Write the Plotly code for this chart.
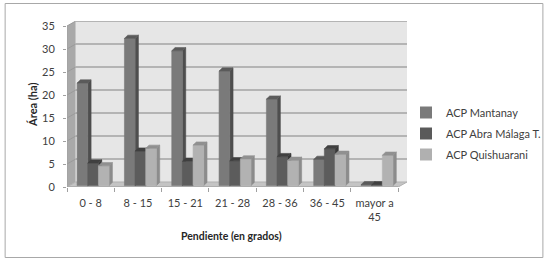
import plotly.graph_objects as go

# ---------------- data ----------------
categories = ["0 - 8", "8 - 15", "15 - 21", "21 - 28", "28 - 36", "36 - 45", "mayor a<br>45"]
series_names = ["ACP Mantanay", "ACP Abra Málaga T.", "ACP Quishuarani"]
mantanay = [22.3, 32.0, 29.3, 24.9, 18.8, 5.7, 0.2]
abra = [4.9, 7.5, 5.3, 5.4, 6.3, 8.0, 0.2]
quishuarani = [4.3, 8.1, 8.8, 5.8, 5.5, 6.8, 6.6]
y_ticks = [0, 5, 10, 15, 20, 25, 30, 35]

series_values = [mantanay, abra, quishuarani]
legend_colors = ["#7a7a7a", "#5a5a5a", "#b0b0b0"]
front_colors = ["#7a7a7a", "#5c5c5c", "#b2b2b2"]
top_colors = ["#5a5a5a", "#404040", "#909090"]
side_colors = ["#4e4e4e", "#383838", "#8c8c8c"]

# ---------------- geometry ----------------
W, H = 558, 261
L, R, T, B = 67, 142, 21, 74
PW, PH = W - L - R, H - T - B
n_cat = len(categories)
ymax = y_ticks[-1]
xs = 340 / n_cat          # px per x unit (front plane)
ys = 4.6                  # px per y unit
dx, dy = 9 / xs, 5 / ys   # full depth offset (back wall)
fx, fy = 2.5 / xs, 1.4 / ys   # bar front offset
bx, by = 3.4 / xs, 3.2 / ys   # bar depth
bw = 0.225
g0 = 0.5 - 1.5 * bw

x_range = [0, n_cat + dx]
y_range = [0, ymax + dy]


def px2paper_x(p):
    return (p - L) / PW


def px2paper_y(p):
    return (H - B - p) / PH


fig = go.Figure()

# bar faces drawn as polygons, painter's order left to right
for i, vals in enumerate(series_values):
    fxs, fys, txs, tys, sxs, sys_ = [], [], [], [], [], []
    for c, v in enumerate(vals):
        x0 = c + g0 + i * bw + fx
        x1 = x0 + bw
        y0 = fy
        y1 = v + fy
        fxs += [x0, x1, x1, x0, x0, None]
        fys += [y0, y0, y1, y1, y0, None]
        txs += [x0, x1, x1 + bx, x0 + bx, x0, None]
        tys += [y1, y1, y1 + by, y1 + by, y1, None]
        sxs += [x1, x1 + bx, x1 + bx, x1, x1, None]
        sys_ += [y0, y0 + by, y1 + by, y1, y0, None]
    for xx, yy, col in [(sxs, sys_, side_colors[i]), (fxs, fys, front_colors[i]), (txs, tys, top_colors[i])]:
        fig.add_trace(go.Scatter(x=xx, y=yy, mode="lines", fill="toself", fillcolor=col,
                                 line=dict(width=0.6, color=col), showlegend=False,
                                 hoverinfo="skip"))

# legend entries
for name, col in zip(series_names, legend_colors):
    fig.add_trace(go.Bar(x=[None], y=[None], name=name, legendgroup=name,
                         marker=dict(color=col, line=dict(width=0))))

shapes = []
# left wall
shapes.append(dict(type="path", xref="x", yref="y", layer="below",
                   path=f"M0,0 L{dx},{dy} L{dx},{ymax + dy} L0,{ymax} Z",
                   fillcolor="#a9a9a9", line=dict(width=0)))
# back wall
shapes.append(dict(type="rect", xref="x", yref="y", layer="below",
                   x0=dx, x1=n_cat + dx, y0=dy, y1=ymax + dy,
                   fillcolor="#e6e6e6", line=dict(width=0)))
# gridlines on back wall and left wall
for t in y_ticks[1:]:
    shapes.append(dict(type="line", xref="x", yref="y", layer="below",
                       x0=dx, x1=n_cat + dx, y0=t + dy, y1=t + dy,
                       line=dict(color="#a3a3a3", width=1.5)))
    shapes.append(dict(type="line", xref="x", yref="y", layer="below",
                       x0=0, x1=dx, y0=t, y1=t + dy,
                       line=dict(color="#9a9a9a", width=1)))
# floor
shapes.append(dict(type="path", xref="x", yref="y", layer="below",
                   path=f"M0,0 L{n_cat},0 L{n_cat + dx},{dy} L{dx},{dy} Z",
                   fillcolor="#c4c4c4", line=dict(color="#b0b0b0", width=1)))
# front axis lines
shapes.append(dict(type="line", xref="x", yref="y", layer="below",
                   x0=0, x1=n_cat, y0=0, y1=0, line=dict(color="#a0a0a0", width=1)))
shapes.append(dict(type="line", xref="x", yref="y", layer="below",
                   x0=0, x1=0, y0=0, y1=ymax, line=dict(color="#a0a0a0", width=1)))
# outer border
shapes.append(dict(type="rect", xref="paper", yref="paper", layer="below",
                   x0=px2paper_x(3.5), x1=px2paper_x(555.5), y0=px2paper_y(257.5), y1=px2paper_y(3.5),
                   fillcolor="rgba(0,0,0,0)", line=dict(color="#a8a8a8", width=1)))

font_family = "Lato"
fig.update_layout(
    width=W, height=H,
    margin=dict(l=L, r=R, t=T, b=B),
    paper_bgcolor="white", plot_bgcolor="rgba(0,0,0,0)",
    shapes=shapes,
    showlegend=True,
    legend=dict(x=px2paper_x(415), y=px2paper_y(98), xanchor="left", yanchor="top",
                font=dict(family=font_family, size=11, color="#404040"),
                tracegroupgap=2, bgcolor="rgba(0,0,0,0)"),
    font=dict(family=font_family, size=10.5, color="#404040"),
    annotations=[
        dict(text="<b>Área (ha)</b>", textangle=-90, xref="paper", yref="paper",
             x=px2paper_x(31), y=px2paper_y(105), xanchor="center", yanchor="middle",
             showarrow=False, font=dict(family=font_family, size=11, color="#262626")),
        dict(text="<b>Pendiente (en grados)</b>", xref="paper", yref="paper",
             x=px2paper_x(236), y=px2paper_y(236), xanchor="center", yanchor="middle",
             showarrow=False, font=dict(family=font_family, size=10.5, color="#262626")),
    ],
)
fig.update_xaxes(range=x_range, showgrid=False, zeroline=False, showline=False,
                 tickmode="array", tickvals=[c + 0.5 for c in range(n_cat)], ticktext=categories,
                 ticks="", tickfont=dict(family=font_family, size=11, color="#404040"),
                 ticklabelstandoff=8,
                 minor=dict(tickmode="array", tickvals=list(range(n_cat + 1)), ticks="outside",
                            ticklen=4, tickcolor="#a0a0a0", showgrid=False))
fig.update_yaxes(range=y_range, showgrid=False, zeroline=False, showline=False,
                 tickmode="array", tickvals=y_ticks, ticks="outside", ticklen=3,
                 tickcolor="#a0a0a0", ticklabelstandoff=6,
                 tickfont=dict(family=font_family, size=11, color="#404040"))

fig.write_html("out.html", config={"displayModeBar": False},
               post_script="document.body.style.margin='0';document.body.style.overflow='hidden';")
